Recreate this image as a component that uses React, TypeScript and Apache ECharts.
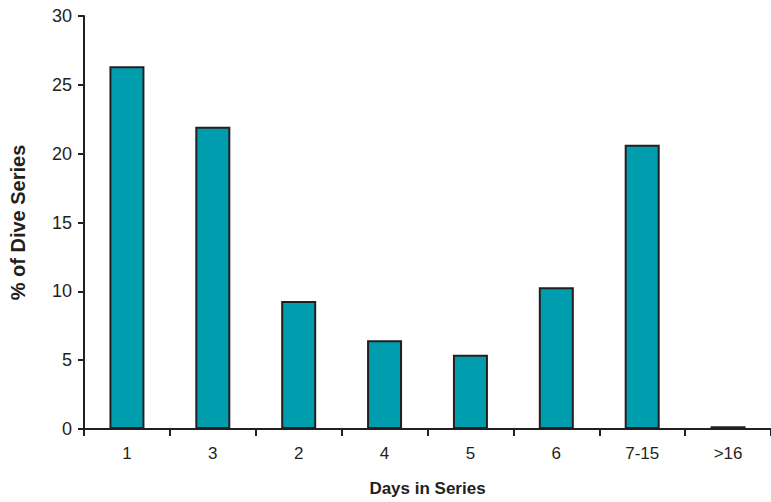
import React, { useEffect, useRef } from "react";
import * as echarts from "echarts";

const categories = ["1", "3", "2", "4", "5", "6", "7-15", ">16"];
const percentValues = [26.35, 21.95, 9.3, 6.45, 5.4, 10.3, 20.65, 0.2];
const yTicks = { min: 0, max: 30, interval: 5 };

export default function App() {
  const ref = useRef<HTMLDivElement>(null);
  useEffect(() => {
    document.body.style.margin = "0";
    const chart = echarts.init(ref.current!, null, { renderer: "svg" });
    const axisColor = "#231f20";
    const font = "'Liberation Sans', Arial, sans-serif";
    chart.setOption({
      animation: false,
      grid: { left: 84, right: 0, top: 16, bottom: 72 },
      xAxis: {
        type: "category",
        data: categories,
        name: "Days in Series",
        nameLocation: "middle",
        nameGap: 51,
        nameTextStyle: { fontFamily: font, fontSize: 17, fontWeight: "bold", color: axisColor },
        axisLine: { show: true, lineStyle: { color: axisColor, width: 2 } },
        axisTick: { show: true, length: 7, lineStyle: { color: axisColor, width: 2 } },
        axisLabel: { fontFamily: font, fontSize: 17, color: axisColor, margin: 16 },
        splitLine: { show: false },
      },
      yAxis: {
        type: "value",
        min: yTicks.min,
        max: yTicks.max,
        interval: yTicks.interval,
        name: "% of Dive Series",
        nameLocation: "middle",
        nameGap: 56,
        nameTextStyle: { fontFamily: font, fontSize: 20, fontWeight: "bold", color: axisColor },
        axisLine: { show: true, lineStyle: { color: axisColor, width: 2 } },
        axisTick: { show: true, length: 6, lineStyle: { color: axisColor, width: 2 } },
        axisLabel: { fontFamily: font, fontSize: 18, color: axisColor, margin: 12 },
        splitLine: { show: false },
      },
      series: [
        {
          type: "bar",
          data: percentValues,
          barWidth: 35,
          itemStyle: { color: "#009daf", borderColor: "#231f20", borderWidth: 2 },
        },
      ],
    });
    return () => chart.dispose();
  }, []);
  return <div ref={ref} style={{ width: 771, height: 502 }} />;
}
